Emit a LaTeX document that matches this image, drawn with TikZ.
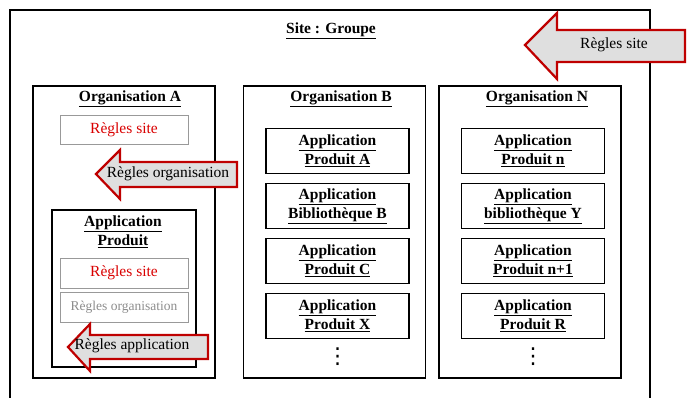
\documentclass[tikz,border=0pt]{standalone}
\usepackage{fontspec}
\setmainfont{Liberation Serif}
\newfontfamily\symb{DejaVu Sans}
\usepackage{tikz}
\usetikzlibrary{positioning}

\begin{document}
\fontsize{15.5}{19}\selectfont
\begin{tikzpicture}[
        x=1pt, y=-1pt,
        node distance=8.5pt,
        orga/.style={draw, line width=1.5pt, minimum width=182pt, minimum height=292pt},
        appli/.style={draw, line width=1.5pt, align=center, minimum width=143pt, minimum height=45pt, inner sep=0pt, font=\bfseries},
        regle/.style={draw=gray!80, line width=0.8pt, minimum width=128pt, minimum height=29pt, inner sep=0pt},
        titre/.style={font=\bfseries, align=center},
        points/.style={font=\symb\fontsize{22}{22}\selectfont, inner sep=0pt},
        fleche/.style={draw=red!75!black, fill=gray!25, line width=2.2pt, line join=miter}
    ]
        \useasboundingbox (0,0) rectangle (691,398);

        % le site
        \draw[line width=1.5pt] (10,398) -- (10,10) -- (650,10) -- (650,398);
        \node[titre] (site) at (331,31) {\underline{Site : Groupe}};
        \draw[fleche] (525,45) -- (557,13) -- (557,30) -- (685,30) -- (685,62) -- (557,62) -- (557,79) -- cycle;
        \node (flSite) at (614,45) {Règles site};

        % organisations
        \node[orga] (orgA) at (124,232) {};
        \node[orga] (orgB) at (334.5,232) {};
        \node[orga] (orgN) at (530,232) {};
        \node[titre] (titreA) at (130,99) {\underline{Organisation A}};
        \node[titre] (titreB) at (341,99) {\underline{Organisation B}};
        \node[titre] (titreN) at (537,99) {\underline{Organisation N}};

        % Organisation A
        \node[regle, text=red!85!black] (siteA) at (124,130) {Règles site};
        \draw[fleche] (96,174) -- (120,150) -- (120,162) -- (237,162) -- (237,187) -- (120,187) -- (120,199) -- cycle;
        \node (flOrga) at (168,174) {Règles organisation};
        \node[draw, line width=1.5pt, minimum width=144pt, minimum height=157pt] (appA) at (124,288.5) {};
        \node[titre] (titreAppA) at (123,232) {\underline{Application}\\\underline{Produit}};
        \node[regle, text=red!85!black, minimum height=30pt] (siteAppA) at (124,273) {Règles site};
        \node[regle, text=gray!90, minimum height=30pt, font=\fontsize{13.5}{16}\selectfont] (orgaAppA) at (124,307) {Règles organisation};
        \draw[fleche] (68,347) -- (90,324) -- (90,335) -- (208,335) -- (208,359) -- (90,359) -- (90,371) -- cycle;
        \node (flAppli) at (132,346) {Règles application};

        % Organisation B
        \node[appli] (b1) at (337.5,151) {\underline{Application}\\\underline{Produit A}};
        \node[appli, below=of b1] (b2) {\underline{Application}\\\underline{Bibliothèque B}};
        \node[appli, below=of b2] (b3) {\underline{Application}\\\underline{Produit C}};
        \node[appli, below=of b3] (b4) {\underline{Application}\\\underline{Produit X}};
        \node[points] (bDots) at (337.5,357) {⋮};

        % Organisation N
        \node[appli] (n1) at (533,151) {\underline{Application}\\\underline{Produit n}};
        \node[appli, below=of n1] (n2) {\underline{Application}\\\underline{bibliothèque Y}};
        \node[appli, below=of n2] (n3) {\underline{Application}\\\underline{Produit n+1}};
        \node[appli, below=of n3] (n4) {\underline{Application}\\\underline{Produit R}};
        \node[points] (nDots) at (533,357) {⋮};
    \end{tikzpicture}
\end{document}
